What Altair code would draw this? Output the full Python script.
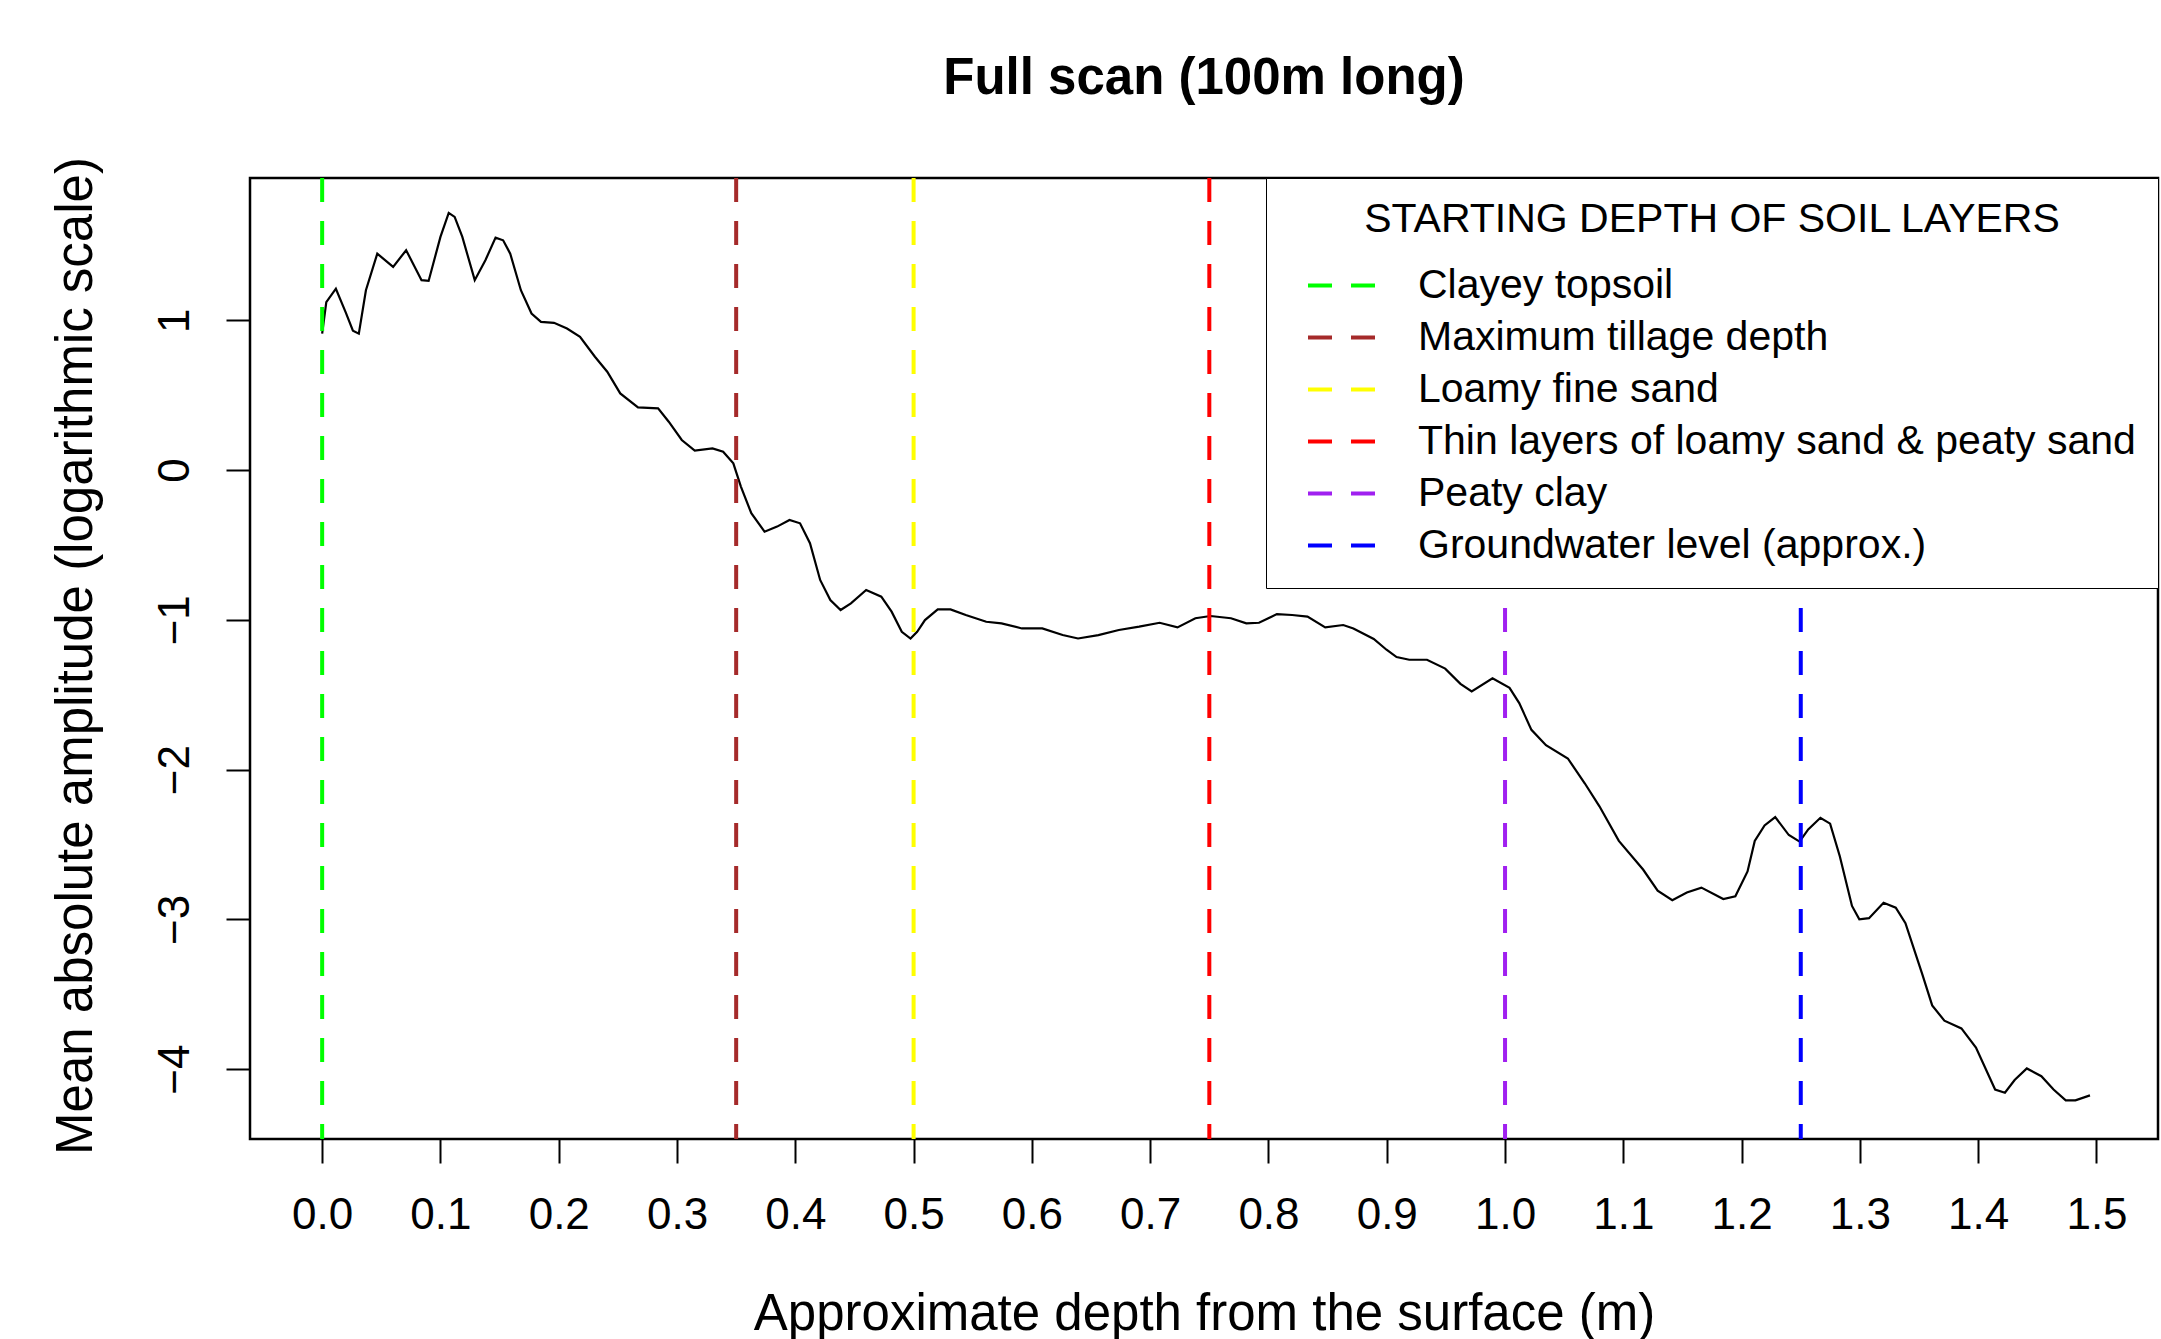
import altair as alt
import pandas as pd

# ---- data ----
depth = [0.000, 0.0035, 0.0116, 0.020, 0.026, 0.031, 0.037, 0.0466, 0.060, 0.071,
         0.084, 0.090, 0.100, 0.107, 0.112, 0.1185, 0.129, 0.138, 0.1466, 0.153,
         0.159, 0.168, 0.177, 0.185, 0.196, 0.207, 0.218, 0.2306, 0.241, 0.252,
         0.267, 0.284, 0.293, 0.304, 0.315, 0.330, 0.339, 0.3476, 0.354, 0.3628,
         0.374, 0.3846, 0.3951, 0.404, 0.4124, 0.4210, 0.4296, 0.4383, 0.447, 0.4599,
         0.4727, 0.4814, 0.490, 0.4974, 0.503, 0.5096, 0.5204, 0.5312, 0.5441, 0.5614,
         0.5743, 0.5916, 0.6088, 0.626, 0.639, 0.6562, 0.6735, 0.6907, 0.708, 0.7231,
         0.7382, 0.751, 0.7683, 0.7813, 0.792, 0.8071, 0.820, 0.833, 0.848, 0.8632,
         0.8718, 0.889, 0.8998, 0.9083, 0.919, 0.934, 0.9494, 0.9623, 0.9718, 0.9894,
         1.0038, 1.012, 1.0223, 1.0346, 1.0531, 1.0675, 1.0798, 1.0962, 1.1167, 1.129,
         1.1414, 1.1537, 1.166, 1.1845, 1.1947, 1.205, 1.2111, 1.2194, 1.2284, 1.2399,
         1.249, 1.2563, 1.2666, 1.2748, 1.283, 1.2933, 1.2995, 1.3077, 1.320, 1.3303,
         1.3385, 1.3529, 1.3611, 1.3714, 1.3858, 1.3981, 1.4143, 1.4226, 1.4308, 1.4411,
         1.4534, 1.4637, 1.474, 1.4822, 1.4945]
amplitude = [0.91, 1.12, 1.21, 1.05, 0.93, 0.91, 1.20, 1.444, 1.356, 1.467,
             1.267, 1.262, 1.556, 1.716, 1.689, 1.556, 1.267, 1.40, 1.551, 1.533,
             1.444, 1.20, 1.044, 0.989, 0.982, 0.944, 0.889, 0.756, 0.656, 0.511,
             0.418, 0.411, 0.322, 0.20, 0.129, 0.144, 0.122, 0.044, -0.111, -0.289,
             -0.412, -0.378, -0.334, -0.356, -0.489, -0.734, -0.868, -0.935, -0.89, -0.801,
             -0.846, -0.946, -1.080, -1.125, -1.08, -1.002, -0.931, -0.931, -0.968, -1.013,
             -1.024, -1.058, -1.058, -1.102, -1.125, -1.102, -1.068, -1.046, -1.02, -1.051,
             -0.99, -0.975, -0.99, -1.024, -1.02, -0.962, -0.968, -0.979, -1.051, -1.035,
             -1.058, -1.128, -1.2, -1.249, -1.267, -1.267, -1.326, -1.428, -1.479, -1.390,
             -1.454, -1.556, -1.735, -1.837, -1.926, -2.093, -2.245, -2.476, -2.667, -2.808,
             -2.872, -2.821, -2.788, -2.864, -2.846, -2.68, -2.476, -2.373, -2.317, -2.437,
             -2.481, -2.399, -2.322, -2.361, -2.578, -2.91, -3.0, -2.992, -2.889, -2.922,
             -3.025, -3.37, -3.574, -3.676, -3.728, -3.855, -4.136, -4.157, -4.072, -3.995,
             -4.047, -4.136, -4.208, -4.208, -4.175]

layer_names = ["Clayey topsoil", "Maximum tillage depth", "Loamy fine sand",
               "Thin layers of loamy sand & peaty sand", "Peaty clay",
               "Groundwater level (approx.)"]
layer_depths = [0.0, 0.35, 0.5, 0.75, 1.0, 1.25]
layer_colors = ["#00FF00", "#A52A2A", "#FFFF00", "#FF0000", "#A020F0", "#0000FF"]

x_ticks = [0.0, 0.1, 0.2, 0.3, 0.4, 0.5, 0.6, 0.7, 0.8, 0.9, 1.0, 1.1, 1.2, 1.3, 1.4, 1.5]
y_ticks = [-4, -3, -2, -1, 0, 1]

TITLE = "Full scan (100m long)"
X_TITLE = "Approximate depth from the surface (m)"
Y_TITLE = "Mean absolute amplitude (logarithmic scale)"
LEGEND_TITLE = "STARTING DEPTH OF SOIL LAYERS"

# ---- layout / style ----
W, H = 1908, 961
FONT = "Liberation Sans, Arial, sans-serif"

curve_df = pd.DataFrame({"depth": depth, "amp": amplitude})
layers_df = pd.DataFrame({"layer": layer_names, "depth": layer_depths})

xscale = alt.Scale(domain=[-0.061, 1.552], nice=False, zero=False)
yscale = alt.Scale(domain=[-4.466, 1.949], nice=False, zero=False)

xaxis = alt.Axis(values=x_ticks, format=".1f", title=X_TITLE, grid=False, domain=False,
                 tickSize=24, tickWidth=2, tickColor="black",
                 labelFontSize=44, labelFont=FONT, labelColor="black",
                 labelPadding=52, labelBaseline="middle", labelFlush=False, labelOverlap=False,
                 titleFontSize=51, titleFont=FONT, titleFontWeight="normal", titleColor="black",
                 titleX=W / 2, titleY=175, titleAlign="center", titleBaseline="middle")
yaxis = alt.Axis(values=y_ticks, format="d", title=Y_TITLE, grid=False, domain=False,
                 tickSize=24, tickWidth=2, tickColor="black",
                 labelFontSize=44, labelFont=FONT, labelColor="black",
                 labelAngle=270, labelAlign="center", labelBaseline="middle",
                 labelPadding=51, labelFlush=False, labelOverlap=False,
                 titleFontSize=51, titleFont=FONT, titleFontWeight="normal", titleColor="black",
                 titleAngle=270, titleX=-174, titleY=H / 2 - 3, titleAlign="center",
                 titleBaseline="middle")

line = alt.Chart(curve_df).mark_line(color="black", strokeWidth=2.2).encode(
    x=alt.X("depth:Q", scale=xscale, axis=xaxis),
    y=alt.Y("amp:Q", scale=yscale, axis=yaxis),
)

legend = alt.Legend(
    title=LEGEND_TITLE, orient="top-right", offset=0, padding=22,
    fillColor="white", strokeColor="black",
    symbolType="stroke", symbolDash=[24, 19], symbolStrokeWidth=4, symbolSize=4624,
    symbolOffset=18, clipHeight=41, labelOffset=40,
    labelFontSize=41, labelFont=FONT, labelColor="black", labelLimit=1500,
    labelBaseline="middle",
    titleFontSize=41, titleFont=FONT, titleFontWeight="normal", titleColor="black",
    titleAnchor="middle", titleAlign="center", titlePadding=24, titleLimit=1500,
    rowPadding=10,
)

rules = alt.Chart(layers_df).mark_rule(strokeDash=[24, 19], strokeWidth=4).encode(
    x=alt.X("depth:Q", scale=xscale, axis=xaxis),
    color=alt.Color("layer:N", sort=layer_names,
                    scale=alt.Scale(domain=layer_names, range=layer_colors),
                    legend=legend),
)

chart = alt.layer(line, rules).properties(
    width=W, height=H,
    title=alt.TitleParams(TITLE, fontSize=51, font=FONT, fontWeight="bold", color="black",
                          anchor="middle", offset=52),
    autosize=alt.AutoSizeParams(type="none"),
    padding={"left": 250, "top": 178, "right": 3, "bottom": 200},
    background="white",
).configure_view(stroke="black", strokeWidth=2.5)

chart.save("out.html", embed_options={"renderer": "svg", "actions": False})
